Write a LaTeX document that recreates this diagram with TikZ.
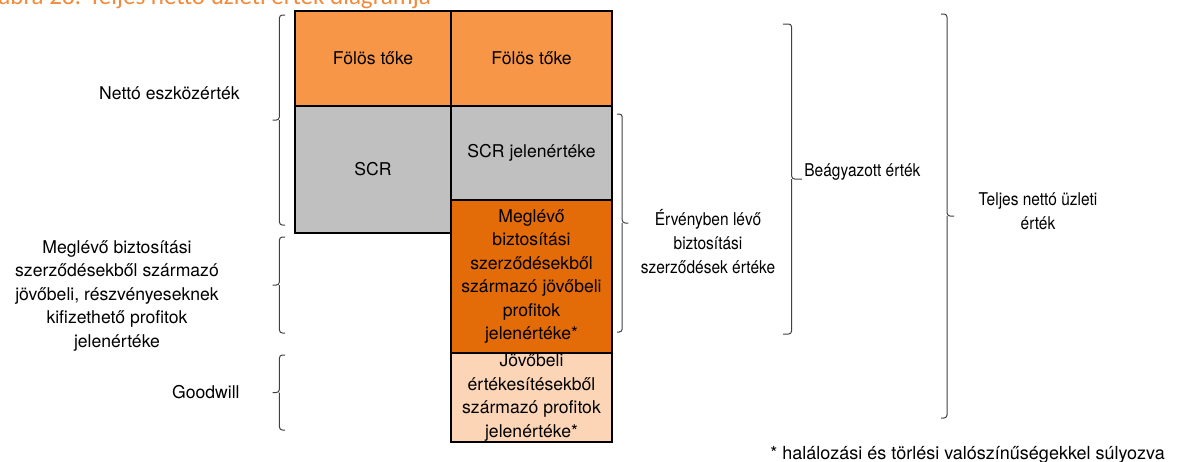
\documentclass[tikz,border=0pt]{standalone}
\usepackage{fontspec}
\setmainfont{TeX Gyre Heros}
\newfontfamily\narrowfont[FakeStretch=0.88]{TeX Gyre Heros}
\newfontfamily\titlefont{Carlito}
\usetikzlibrary{positioning,calc}

\definecolor{excorange}{HTML}{F79646}
\definecolor{scrgrey}{HTML}{C0C0C0}
\definecolor{vifdark}{HTML}{E36C09}
\definecolor{futpeach}{HTML}{FBD5B5}
\definecolor{titleorange}{HTML}{F28A3C}
\definecolor{braceclr}{HTML}{404040}

\tikzset{
	cell/.style={draw=black, line width=1pt, inner sep=0pt, outer sep=0pt, align=center},
	% square-ish bracket: hooks, straight back, small tick in the middle
	brk/.style={draw=braceclr, line width=0.5pt, to path={
		let \p1=(\tikztostart), \p2=(\tikztotarget) in
		[rounded corners=1.5pt] (\p1) -- (\x1+#1,\y1) -- (\x1+#1,{(\y1+\y2)/2}) -- (\x1+2.2*#1,{(\y1+\y2)/2})
		[sharp corners] (\x1+#1,{(\y1+\y2)/2}) [rounded corners=1.5pt] -- (\x1+#1,\y2) -- (\p2)
	}},
	brk/.default=-2.8pt,
	lbl/.style={inner sep=0pt, align=center},
	rlbl/.style={inner sep=0pt, align=center, font=\narrowfont\fontsize{8.8}{12}\selectfont}
}

\begin{document}
\begin{tikzpicture}[x=0.5pt, y=-0.5pt, font=\fontsize{8.8}{11.75}\selectfont]
	
	\useasboundingbox (0,0) rectangle (1181,461);
	
	\node[anchor=base west, inner sep=0pt, text=titleorange, font=\titlefont\fontsize{12.5}{14}\selectfont]
	(title) at (-2,4) {ábra 28: Teljes nettó üzleti érték diagramja};
	
	% the two columns
	\node[cell, fill=excorange, minimum width=78pt, minimum height=47.5pt] (exc1) at (373,58.5) {Fölös tőke};
	\node[cell, fill=excorange, minimum width=80.5pt, minimum height=47.5pt, right=0pt of exc1] (exc2) {Fölös tőke};
	\node[cell, fill=scrgrey, minimum width=78pt, minimum height=63.5pt, below=0pt of exc1] (scr1) {SCR};
	\node[cell, fill=scrgrey, minimum width=80.5pt, minimum height=47pt, below=0pt of exc2] (scr2) {SCR jelenértéke};
	\node[cell, fill=vifdark, minimum width=80.5pt, minimum height=76.5pt, below=0pt of scr2] (vif)
	{Meglévő\\biztosítási\\szerződésekből\\származó jövőbeli\\profitok\\jelenértéke*};
	\node[cell, fill=futpeach, minimum width=80.5pt, minimum height=44.5pt, below=0pt of vif] (fut)
	{Jövőbeli\\értékesítésekből\\származó profitok\\jelenértéke*};
	
	% brackets on the left
	\coordinate (nav-t) at (285,15);
	\coordinate (nav-b) at (285,225);
	\coordinate (pvf-t) at (285,237);
	\coordinate (pvf-b) at (285,333);
	\coordinate (gw-t) at (285,355);
	\coordinate (gw-b) at (285,430);
	\draw[brk] (nav-t) to (nav-b);
	\draw[brk] (pvf-t) to (pvf-b);
	\draw[brk] (gw-t) to (gw-b);
	
	\node[lbl, anchor=east] (navlbl) at (240,93) {Nettó eszközérték};
	\node[lbl] (pvflbl) at (117,295.5)
	{Meglévő biztosítási\\szerződésekből származó\\jövőbeli, részvényeseknek\\kifizethető profitok\\jelenértéke};
	\node[lbl, anchor=east] (gwlbl) at (240,392) {Goodwill};
	
	% brackets on the right
	\coordinate (vif-t) at (617,114);
	\coordinate (vif-b) at (617,332);
	\coordinate (ev-t) at (783,24);
	\coordinate (ev-b) at (783,334);
	\coordinate (tot-t) at (941,14);
	\coordinate (tot-b) at (941,418);
	\draw[brk=2.6pt] (vif-t) to (vif-b);
	\draw[brk=4.3pt] (ev-t) to (ev-b);
	\draw[brk=3pt] (tot-t) to (tot-b);
	
	\node[rlbl] (viflbl) at (708,242) {Érvényben lévő\\biztosítási\\szerződések értéke};
	\node[rlbl, anchor=base west] (evlbl) at (804,176) {Beágyazott érték};
	\node[rlbl] (totlbl) at (1038,211) {Teljes nettó üzleti\\érték};
	
	\node[lbl, anchor=base west, font=\fontsize{9}{11}\selectfont] (note) at (770,459) {* halálozási és törlési valószínűségekkel súlyozva};
	
\end{tikzpicture}
\end{document}
